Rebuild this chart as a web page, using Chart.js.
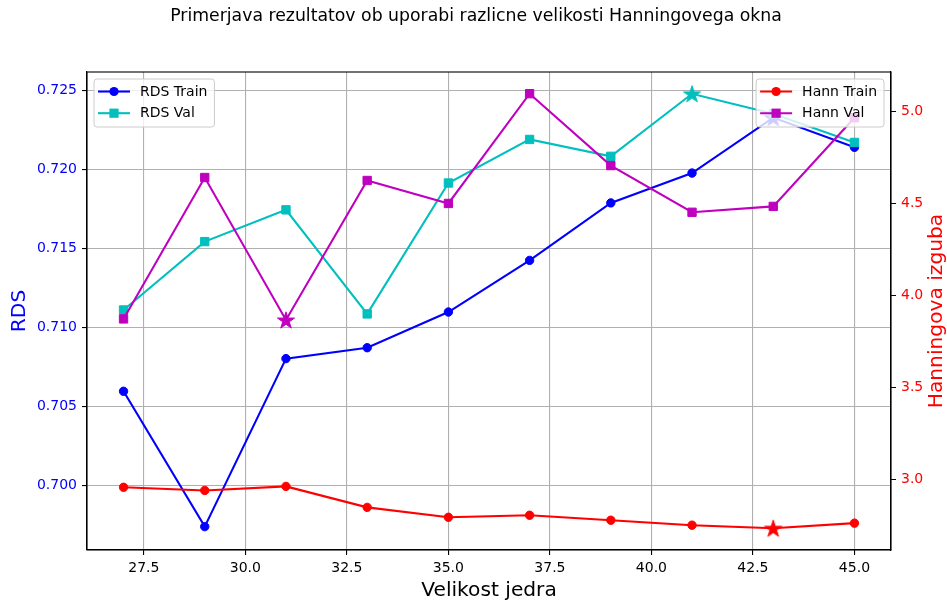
<!DOCTYPE html>
<html>
<head>
<meta charset="utf-8">
<script src="https://cdn.jsdelivr.net/npm/chart.js@4.4.1/dist/chart.umd.min.js"></script>
<style>
  html, body { margin: 0; padding: 0; background: #ffffff; }
  #wrap { width: 947px; height: 602px; position: relative; }
</style>
</head>
<body>
<div id="wrap"><canvas id="c" width="947" height="602"></canvas></div>
<script>
// ---- data ----
const kernelSizes = [27, 29, 31, 33, 35, 37, 39, 41, 43, 45];
const rdsTrain  = [0.70597, 0.69740, 0.70804, 0.70873, 0.71099, 0.71426, 0.71790, 0.71979, 0.72330, 0.72142];
const rdsVal    = [0.71112, 0.71545, 0.71746, 0.71087, 0.71916, 0.72192, 0.72085, 0.72481, 0.72355, 0.72173];
const hannTrain = [2.957, 2.940, 2.962, 2.848, 2.794, 2.805, 2.778, 2.751, 2.734, 2.762];
const hannVal   = [3.873, 4.642, 3.867, 4.626, 4.501, 5.098, 4.707, 4.453, 4.485, 4.967];
const xTicks    = [27.5, 30.0, 32.5, 35.0, 37.5, 40.0, 42.5, 45.0];
const rdsTicks  = [0.700, 0.705, 0.710, 0.715, 0.720, 0.725];
const hannTicks = [3.0, 3.5, 4.0, 4.5, 5.0];

const titleText = 'Primerjava rezultatov ob uporabi razlicne velikosti Hanningovega okna';
const xLabel = 'Velikost jedra';
const yLabel = 'RDS';
const y2Label = 'Hanningova izguba';

const BLUE = '#0000ff', CYAN = '#00bfbf', RED = '#ff0000', MAG = '#bf00bf';
const FONT = '"DejaVu Sans", sans-serif';

function argMax(a) { let b = 0; a.forEach((v, i) => { if (v > a[b]) b = i; }); return b; }
function argMin(a) { let b = 0; a.forEach((v, i) => { if (v < a[b]) b = i; }); return b; }

function starCanvas(color) {
  const R = 9, r = R * 0.381966, s = 22;
  const c = document.createElement('canvas');
  c.width = s; c.height = s;
  const g = c.getContext('2d');
  g.beginPath();
  for (let k = 0; k < 10; k++) {
    const rad = k % 2 === 0 ? R : r;
    const a = -Math.PI / 2 + k * Math.PI / 5;
    const px = s / 2 + rad * Math.cos(a), py = s / 2 + rad * Math.sin(a) + 0.8;
    if (k === 0) g.moveTo(px, py); else g.lineTo(px, py);
  }
  g.closePath();
  g.fillStyle = color; g.fill();
  g.strokeStyle = color; g.lineWidth = 1; g.stroke();
  return c;
}

function pts(ys) { return kernelSizes.map((x, i) => ({ x: x, y: ys[i] })); }

function makeDataset(label, ys, color, style, best, axis, order) {
  const star = starCanvas(color);
  return {
    label: label,
    data: pts(ys),
    yAxisID: axis,
    order: order,
    borderColor: color,
    backgroundColor: color,
    borderWidth: 2.1,
    pointBorderWidth: 1,
    pointRadius: style === 'rect' ? 5.9 : 4.2,
    pointStyle: (ctx) => ctx.dataIndex === best ? star : style,
    pointBackgroundColor: color,
    pointBorderColor: color,
    tension: 0,
    fill: false
  };
}

const datasets = [
  makeDataset('RDS Train', rdsTrain, BLUE, 'circle', argMax(rdsTrain), 'y', 3),
  makeDataset('RDS Val', rdsVal, CYAN, 'rect', argMax(rdsVal), 'y', 2),
  makeDataset('Hann Train', hannTrain, RED, 'circle', argMin(hannTrain), 'y2', 1),
  makeDataset('Hann Val', hannVal, MAG, 'rect', argMin(hannVal), 'y2', 0)
];

function drawLegend(ctx, x0, y0, items, alignRight) {
  ctx.save();
  ctx.font = '14px ' + FONT;
  let tw = 0;
  items.forEach(it => { tw = Math.max(tw, ctx.measureText(it.label).width); });
  const textOff = 46, w = textOff + tw + 7, h = 48;
  const x = alignRight ? x0 - w : x0;
  const rr = 3;
  ctx.beginPath();
  ctx.moveTo(x + rr, y0);
  ctx.lineTo(x + w - rr, y0); ctx.arcTo(x + w, y0, x + w, y0 + rr, rr);
  ctx.lineTo(x + w, y0 + h - rr); ctx.arcTo(x + w, y0 + h, x + w - rr, y0 + h, rr);
  ctx.lineTo(x + rr, y0 + h); ctx.arcTo(x, y0 + h, x, y0 + h - rr, rr);
  ctx.lineTo(x, y0 + rr); ctx.arcTo(x, y0, x + rr, y0, rr);
  ctx.closePath();
  ctx.fillStyle = 'rgba(255,255,255,0.8)';
  ctx.fill();
  ctx.strokeStyle = '#cccccc'; ctx.lineWidth = 1; ctx.stroke();
  items.forEach((it, i) => {
    const yy = y0 + 12.5 + i * 21.7;
    ctx.strokeStyle = it.color; ctx.lineWidth = 2.1;
    ctx.beginPath(); ctx.moveTo(x + 4, yy); ctx.lineTo(x + 36, yy); ctx.stroke();
    ctx.fillStyle = it.color;
    if (it.style === 'circle') {
      ctx.beginPath(); ctx.arc(x + 20, yy, 4.6, 0, Math.PI * 2); ctx.fill();
    } else {
      ctx.fillRect(x + 20 - 4.6, yy - 4.6, 9.2, 9.2);
    }
    ctx.fillStyle = '#000000';
    ctx.textBaseline = 'middle'; ctx.textAlign = 'left';
    ctx.fillText(it.label, x + textOff, yy + 0.5);
  });
  ctx.restore();
}

const decor = {
  id: 'decor',
  afterDatasetsDraw(chart) {
    const ctx = chart.ctx, a = chart.chartArea;
    ctx.save();
    ctx.strokeStyle = '#000000'; ctx.lineWidth = 1.1;
    ctx.strokeRect(a.left, a.top, a.right - a.left, a.bottom - a.top);
    ctx.restore();
    drawLegend(ctx, a.left + 7, a.top + 7, [
      { label: 'RDS Train', color: BLUE, style: 'circle' },
      { label: 'RDS Val', color: CYAN, style: 'rect' }
    ], false);
    drawLegend(ctx, a.right - 7, a.top + 7, [
      { label: 'Hann Train', color: RED, style: 'circle' },
      { label: 'Hann Val', color: MAG, style: 'rect' }
    ], true);
  },
  afterDraw(chart) {
    const ctx = chart.ctx, a = chart.chartArea;
    ctx.save();
    ctx.textAlign = 'center'; ctx.textBaseline = 'middle';
    ctx.fillStyle = '#000000';
    ctx.font = '17.3px ' + FONT;
    ctx.fillText(titleText, 476, 17);
    ctx.font = '20.2px ' + FONT;
    ctx.fillText(xLabel, (a.left + a.right) / 2, 591);
    ctx.save();
    ctx.translate(20, (a.top + a.bottom) / 2);
    ctx.rotate(-Math.PI / 2);
    ctx.fillStyle = BLUE;
    ctx.fillText(yLabel, 0, 0);
    ctx.restore();
    ctx.save();
    ctx.translate(937, (a.top + a.bottom) / 2);
    ctx.rotate(-Math.PI / 2);
    ctx.fillStyle = RED;
    ctx.fillText(y2Label, 0, 0);
    ctx.restore();
    ctx.restore();
  }
};

const tickFont = { family: FONT, size: 14 };

new Chart(document.getElementById('c'), {
  type: 'line',
  data: { datasets: datasets },
  plugins: [decor],
  options: {
    responsive: false,
    animation: false,
    devicePixelRatio: 1,
    layout: { padding: { top: 72, left: 0, right: 0, bottom: 0 } },
    plugins: { legend: { display: false }, title: { display: false }, tooltip: { enabled: false } },
    scales: {
      x: {
        type: 'linear',
        min: 26.1, max: 45.9,
        afterBuildTicks: (s) => { s.ticks = xTicks.map(v => ({ value: v })); },
        afterFit: (s) => { s.height = 52; },
        ticks: { callback: (v) => Number(v).toFixed(1), color: '#000000', font: tickFont, padding: 5, maxRotation: 0, autoSkip: false },
        grid: { color: '#b0b0b0', lineWidth: 1.1, tickColor: '#000000', tickLength: 5, drawTicks: true },
        border: { display: true, color: '#000000', width: 1.1 }
      },
      y: {
        type: 'linear', position: 'left',
        min: 0.69592, max: 0.72619,
        afterBuildTicks: (s) => { s.ticks = rdsTicks.map(v => ({ value: v })); },
        afterFit: (s) => { s.width = 87; },
        ticks: { callback: (v) => Number(v).toFixed(3), color: BLUE, font: tickFont, padding: 5, autoSkip: false },
        grid: { color: '#b0b0b0', lineWidth: 1.1, tickColor: '#000000', tickLength: 5, drawTicks: true },
        border: { display: true, color: '#000000', width: 1.1 }
      },
      y2: {
        type: 'linear', position: 'right',
        min: 2.616, max: 5.216,
        afterBuildTicks: (s) => { s.ticks = hannTicks.map(v => ({ value: v })); },
        afterFit: (s) => { s.width = 56; },
        ticks: { callback: (v) => Number(v).toFixed(1), color: RED, font: tickFont, padding: 5, autoSkip: false },
        grid: { drawOnChartArea: false, tickColor: '#000000', tickLength: 5, drawTicks: true },
        border: { display: true, color: '#000000', width: 1.1 }
      }
    }
  }
});
</script>
</body>
</html>
